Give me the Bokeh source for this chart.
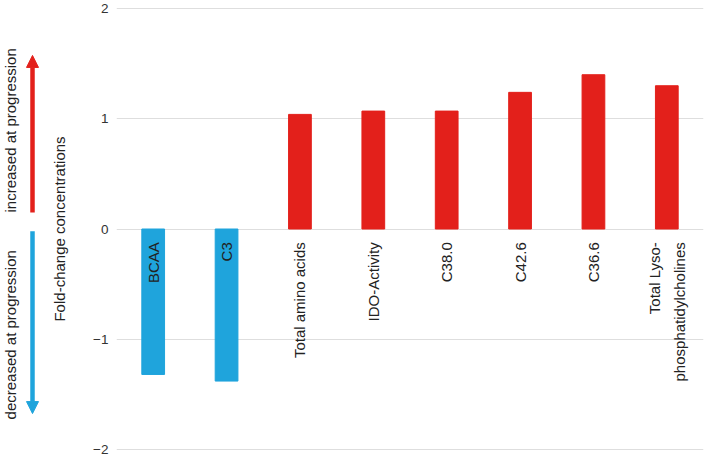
import math
from bokeh.plotting import figure
from bokeh.layouts import row
from bokeh.models import (FactorRange, Range1d, FixedTicker, ColumnDataSource,
                          Arrow, NormalHead)
from bokeh.core.properties import value
from bokeh.embed import file_html
from bokeh.resources import INLINE

# ---- data ----
categories = ["BCAA", "C3", "Total amino acids", "IDO-Activity", "C38.0",
              "C42.6", "C36.6", "Total Lyso-phosphatidylcholines"]
labels = ["BCAA", "C3", "Total amino acids", "IDO-Activity", "C38.0",
          "C42.6", "C36.6", "Total Lyso-\nphosphatidylcholines"]
fold_change = [-1.32, -1.38, 1.04, 1.07, 1.07, 1.24, 1.40, 1.30]
y_ticks = [-2, -1, 0, 1, 2]
y_tick_labels = {-2: "\u22122", -1: "\u22121", 0: "0", 1: "1", 2: "2"}
y_title = "Fold-change concentrations"
up_text = "increased at progression"
down_text = "decreased at progression"

RED = "#E3201B"
BLUE = "#1FA4DC"
FONT = "Liberation Sans"

H = 456
TOP = 7
BOT = 6
YR = (-2.01, 2.01)

colors = [RED if v > 0 else BLUE for v in fold_change]
src = ColumnDataSource(dict(cat=categories, val=fold_change, color=colors,
                            label=labels, ly=[-0.12] * len(categories)))

p = figure(width=658, height=H, x_range=FactorRange(*categories),
           y_range=Range1d(*YR), output_backend="svg", toolbar_location=None,
           x_axis_location=None, min_border_left=65, min_border_right=3,
           min_border_top=TOP, min_border_bottom=BOT)
p.outline_line_color = None
p.xgrid.grid_line_color = None
p.ygrid.grid_line_color = "#dedede"
p.ygrid.grid_line_width = 1.2
p.yaxis.ticker = FixedTicker(ticks=y_ticks)
p.yaxis.major_label_overrides = y_tick_labels
p.yaxis.axis_line_color = None
p.yaxis.major_tick_line_color = None
p.yaxis.minor_tick_line_color = None
p.yaxis.major_tick_out = 0
p.yaxis.major_label_standoff = 8
p.yaxis.major_label_text_font = FONT
p.yaxis.major_label_text_font_size = "13.5px"
p.yaxis.major_label_text_color = "#333333"
p.yaxis.axis_label = y_title
p.yaxis.axis_label_text_font = FONT
p.yaxis.axis_label_text_font_size = "15px"
p.yaxis.axis_label_text_font_style = "normal"
p.yaxis.axis_label_text_color = "#222222"
p.yaxis.axis_label_standoff = 22

p.vbar(x="cat", top="val", bottom=0, width=0.31, color="color", source=src)
p.text(x="cat", y="ly", text="label", angle=math.pi / 2, text_align="right",
       text_baseline="middle", text_font=value(FONT), text_font_size="15px",
       text_color="#222222", text_line_height=1.5, source=src)

# ---- left annotation strip ----
q = figure(width=48, height=H, x_range=Range1d(0, 48), y_range=Range1d(*YR),
           output_backend="svg", toolbar_location=None, x_axis_location=None,
           y_axis_location=None, min_border_left=0, min_border_right=0,
           min_border_top=TOP, min_border_bottom=BOT)
q.outline_line_color = None
q.grid.visible = False
q.add_layout(Arrow(x_start=32, y_start=0.15, x_end=32, y_end=1.575,
                   line_color=RED, line_width=4.5,
                   end=NormalHead(size=12, fill_color=RED, line_color=RED)))
q.add_layout(Arrow(x_start=32, y_start=-0.02, x_end=32, y_end=-1.675,
                   line_color=BLUE, line_width=4.5,
                   end=NormalHead(size=12, fill_color=BLUE, line_color=BLUE)))
q.text(x=[10, 10], y=[0.895, -0.96], text=[up_text, down_text],
       angle=math.pi / 2, text_align="center", text_baseline="middle",
       text_font=value(FONT), text_font_size="15px", text_color="#222222")

layout = row(q, p)
open("out.html", "w").write(file_html(layout, INLINE))
